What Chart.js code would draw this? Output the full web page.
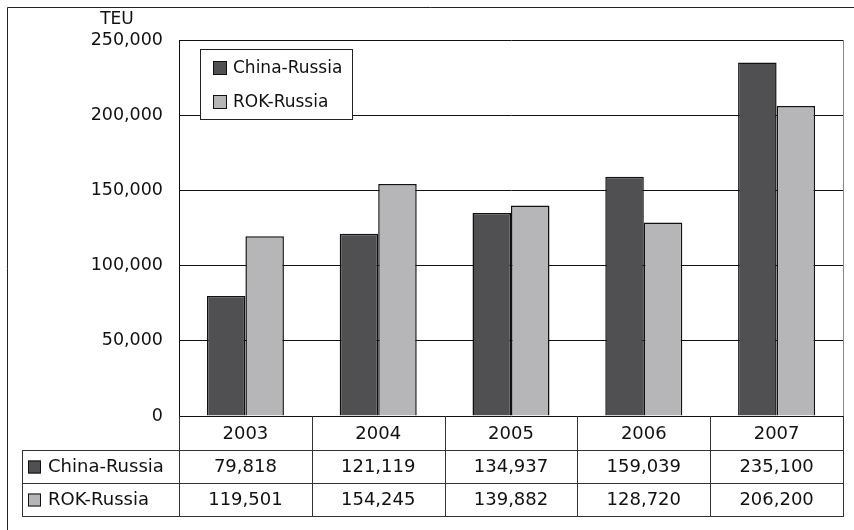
<!DOCTYPE html>
<html>
<head>
<meta charset="utf-8">
<script src="https://cdn.jsdelivr.net/npm/chart.js@4/dist/chart.umd.min.js"></script>
<style>
  body { margin: 0; background: #fff; }
  canvas { display: block; }
</style>
</head>
<body>
<canvas id="barchart" width="854" height="530"></canvas>
<script>
const years = ['2003', '2004', '2005', '2006', '2007'];
const chinaRussia = [79818, 121119, 134937, 159039, 235100];
const rokRussia = [119501, 154245, 139882, 128720, 206200];
const seriesNames = ['China-Russia', 'ROK-Russia'];
const seriesColors = ['#505052', '#b6b6b8'];
const unitLabel = 'TEU';

const FONT = '"DejaVu Sans", sans-serif';
const fmt = v => v.toLocaleString('en-US');

// frame, unit label, legend box and the data table under the plot
const extras = {
  id: 'extras',
  afterDraw(chart) {
    const c = chart.ctx;
    const a = chart.chartArea;
    const x = chart.scales.x;
    const rowH = [34, 33, 33];
    const tableLeft = 22;
    c.save();
    c.lineWidth = 1;

    // outer frame
    c.strokeStyle = '#222';
    c.beginPath();
    c.moveTo(7.5, 530); c.lineTo(7.5, 7.5); c.lineTo(854, 7.5);
    c.stroke();

    // right plot border
    c.strokeStyle = '#888';
    c.beginPath();
    c.moveTo(a.right + 0.5, a.top); c.lineTo(a.right + 0.5, a.bottom);
    c.stroke();

    // unit
    c.fillStyle = '#111';
    c.font = '17px ' + FONT;
    c.textAlign = 'center';
    c.textBaseline = 'middle';
    c.fillText(unitLabel, 117, 20);

    // legend
    c.fillStyle = '#fff';
    c.fillRect(200, 49, 153, 71);
    c.strokeStyle = '#222';
    c.strokeRect(200.5, 49.5, 152, 70);
    seriesNames.forEach((name, i) => {
      const y = 68 + i * 34;
      c.fillStyle = seriesColors[i];
      c.fillRect(213, y - 7, 14, 14);
      c.strokeStyle = '#111';
      c.strokeRect(213.5, y - 6.5, 13, 13);
      c.fillStyle = '#111';
      c.textAlign = 'left';
      c.fillText(name, 233, y + 1);
    });

    // table
    c.font = '18px ' + FONT;
    const colW = (a.right - a.left) / years.length;
    const y0 = a.bottom, y1 = y0 + rowH[0], y2 = y1 + rowH[1], y3 = y2 + rowH[2];
    c.strokeStyle = '#333';
    c.beginPath();
    [y1, y2, y3].forEach(y => { c.moveTo(tableLeft, y + 0.5); c.lineTo(a.right + 1, y + 0.5); });
    c.moveTo(tableLeft + 0.5, y1); c.lineTo(tableLeft + 0.5, y3);
    for (let i = 0; i <= years.length; i++) {
      const xx = Math.round(a.left + i * colW) + 0.5;
      c.moveTo(xx, y0); c.lineTo(xx, y3);
    }
    c.stroke();

    c.fillStyle = '#111';
    c.textAlign = 'center';
    years.forEach((yr, i) => {
      const cx = x.getPixelForValue(i);
      c.fillText(yr, cx, (y0 + y1) / 2 + 1);
      c.fillText(fmt(chinaRussia[i]), cx, (y1 + y2) / 2 + 1);
      c.fillText(fmt(rokRussia[i]), cx, (y2 + y3) / 2 + 1);
    });
    seriesNames.forEach((name, i) => {
      const cy = i === 0 ? (y1 + y2) / 2 : (y2 + y3) / 2;
      c.fillStyle = seriesColors[i];
      c.fillRect(28, cy - 6, 13, 13);
      c.strokeStyle = '#111';
      c.strokeRect(28.5, cy - 5.5, 12, 12);
      c.fillStyle = '#111';
      c.textAlign = 'left';
      c.fillText(name, 48, cy + 1);
    });
    c.restore();
  }
};

const ctx = document.getElementById('barchart');

const barchart = new Chart(ctx, {
  type: 'bar',
  data: {
    labels: years,
    datasets: [
      { label: seriesNames[0], data: chinaRussia, backgroundColor: seriesColors[0], borderColor: '#111', borderWidth: 1.5 },
      { label: seriesNames[1], data: rokRussia, backgroundColor: seriesColors[1], borderColor: '#111', borderWidth: 1.5 }
    ]
  },
  options: {
    responsive: false,
    animation: false,
    categoryPercentage: 0.58,
    barPercentage: 1,
    layout: { padding: { top: 40, right: 11, bottom: 114, left: 0 } },
    plugins: { legend: { display: false }, tooltip: { enabled: false } },
    scales: {
      x: { display: false },
      y: {
        min: 0,
        max: 250000,
        afterFit(scale) { scale.width = 179; },
        border: { display: true, color: '#111', width: 1 },
        grid: { color: '#111', drawTicks: false },
        ticks: {
          stepSize: 50000,
          padding: 16,
          color: '#111',
          font: { family: FONT, size: 17.5 },
          callback: v => fmt(v)
        }
      }
    }
  },
  plugins: [extras]
});
</script>
</body>
</html>
